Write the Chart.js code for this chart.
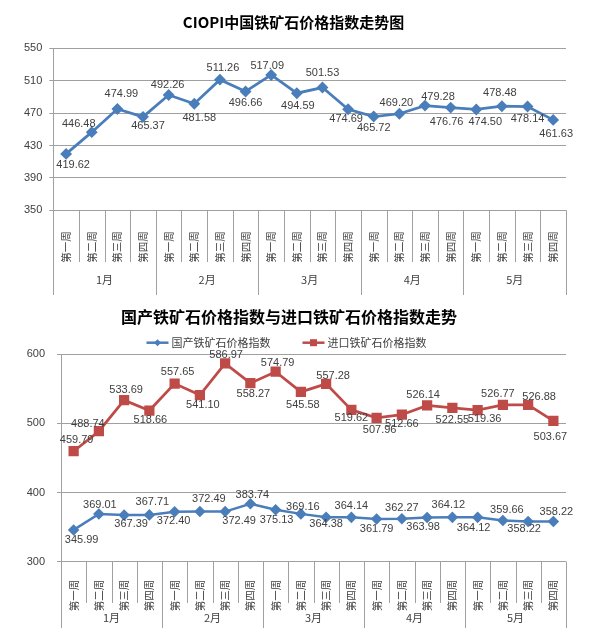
<!DOCTYPE html>
<html lang="zh-CN">
<head>
<meta charset="UTF-8">
<title>CIOPI中国铁矿石价格指数走势图</title>
<script src="https://cdn.jsdelivr.net/npm/chart.js@4"></script>
<style>
  body { margin: 0; background: #fff; }
  .box { position: absolute; left: 0; width: 600px; }
  #box1 { top: 0; height: 305px; }
  #box2 { top: 305px; height: 336px; }
</style>
</head>
<body>
<div class="box" id="box1"><canvas id="ciopiChart"></canvas></div>
<div class="box" id="box2"><canvas id="compareChart"></canvas></div>
<script>
// categories: 5 months x 4 weeks
const weeks = ['第一周', '第二周', '第三周', '第四周'];
const months = ['1月', '2月', '3月', '4月', '5月'];

// CIOPI index (top chart)
const ciopi = [419.62, 446.48, 474.99, 465.37, 492.26, 481.58, 511.26, 496.66, 517.09, 494.59,
               501.53, 474.69, 465.72, 469.20, 479.28, 476.76, 474.50, 478.48, 478.14, 461.63];

// domestic vs imported (bottom chart)
const domestic = [345.99, 369.01, 367.39, 367.71, 372.40, 372.49, 372.49, 383.74, 375.13, 369.16,
                  364.38, 364.14, 361.79, 362.27, 363.98, 364.12, 364.12, 359.66, 358.22, 358.22];
const imported = [459.79, 488.74, 533.69, 518.66, 557.65, 541.10, 586.97, 558.27, 574.79, 545.58,
                  557.28, 519.62, 507.96, 512.66, 526.14, 522.55, 519.36, 526.77, 526.88, 503.67];

const seriesNames = ['国产铁矿石价格指数', '进口铁矿石价格指数'];

// where each value label sits relative to its point [dx, dy]
const ciopiLabelPos = [[7,11],[-13,-8],[4,-15],[5,9],[-1,-10],[5,14],[3,-12],[0,11],[-4,-9],[1,13],
                       [0,-15],[-2,10],[0,11],[-3,-11],[13,-9],[-4,14],[9,13],[-2,-13],[0,12],[3,14]];
const domesticLabelPos = [[8,10],[1,-9],[7,9],[3,-13],[-1,9],[9,-13],[14,9],[2,-9],[1,10],[2,-7],
                          [0,7],[0,-11],[0,10],[0,-11],[-4,10],[-4,-12],[-4,11],[4,-10],[-4,8],[3,-9]];
const importedLabelPos = [[3,-11],[-11,-7],[2,-10],[1,9],[3,-12],[3,10],[1,-8],[3,11],[2,-9],[2,13],
                          [7,-8],[0,8],[3,12],[0,9],[-4,-10],[0,12],[7,9],[-5,-11],[11,-8],[-3,16]];

const categories = months.flatMap(() => weeks);

const BLUE = '#4a7ebb';
const RED = '#be4b48';
const GRID = '#a0a0a0';
const TEXT = '#404040';
const SANS = "'Liberation Sans', Arial, 'Noto Sans CJK SC', sans-serif";
const CJK = "'Noto Sans CJK SC', sans-serif";

Chart.defaults.font.family = SANS;
Chart.defaults.color = TEXT;
Chart.defaults.animation = false;

// week separators + month row under the x axis
const groupAxis = {
  id: 'groupAxis',
  afterDraw(chart, args, opts) {
    const x = chart.scales.x;
    const bottom = chart.chartArea.bottom;
    const ctx = chart.ctx;
    const n = chart.data.labels.length;
    ctx.save();
    ctx.strokeStyle = GRID;
    ctx.lineWidth = 1;
    ctx.beginPath();
    for (let i = 0; i <= n; i++) {
      const px = Math.round(x.getPixelForValue(i - 0.5)) + 0.5;
      ctx.moveTo(px, bottom);
      ctx.lineTo(px, i % weeks.length === 0 ? opts.monthBottom : opts.weekBottom);
    }
    ctx.stroke();
    ctx.fillStyle = TEXT;
    ctx.font = '11px ' + CJK;
    ctx.textAlign = 'center';
    ctx.textBaseline = 'middle';
    months.forEach((m, k) => {
      ctx.fillText(m, x.getPixelForValue(k * weeks.length + 1.5), opts.monthY);
    });
    ctx.restore();
  }
};

// value labels next to every point
const pointLabels = {
  id: 'pointLabels',
  afterDatasetsDraw(chart, args, opts) {
    const ctx = chart.ctx;
    ctx.save();
    ctx.font = '11px ' + SANS;
    ctx.fillStyle = TEXT;
    ctx.textAlign = 'center';
    ctx.textBaseline = 'middle';
    chart.data.datasets.forEach((ds, d) => {
      const meta = chart.getDatasetMeta(d);
      const pos = opts.offsets[d];
      meta.data.forEach((pt, i) => {
        ctx.fillText(ds.data[i].toFixed(2), pt.x + pos[i][0], pt.y + pos[i][1]);
      });
    });
    ctx.restore();
  }
};

// legend drawn as line + marker like the office chart
const lineLegend = {
  id: 'lineLegend',
  afterDraw(chart, args, opts) {
    const ctx = chart.ctx;
    ctx.save();
    ctx.font = '11px ' + CJK;
    const items = chart.data.datasets.map(ds => ({ ds, w: ctx.measureText(ds.label).width }));
    const total = items.reduce((s, it) => s + opts.lineLen + opts.textGap + it.w, 0) + opts.itemGap * (items.length - 1);
    let x = opts.centerX - total / 2;
    const y = opts.y;
    items.forEach(({ ds, w }) => {
      ctx.strokeStyle = ds.borderColor;
      ctx.lineWidth = 2.5;
      ctx.beginPath();
      ctx.moveTo(x, y);
      ctx.lineTo(x + opts.lineLen, y);
      ctx.stroke();
      const cx = x + opts.lineLen / 2;
      ctx.fillStyle = ds.borderColor;
      ctx.beginPath();
      if (ds.pointStyle === 'rect') {
        ctx.rect(cx - 3.5, y - 3.5, 7, 7);
      } else {
        ctx.moveTo(cx, y - 3.5); ctx.lineTo(cx + 3.5, y); ctx.lineTo(cx, y + 3.5); ctx.lineTo(cx - 3.5, y);
        ctx.closePath();
      }
      ctx.fill();
      ctx.fillStyle = TEXT;
      ctx.textAlign = 'left';
      ctx.textBaseline = 'middle';
      ctx.fillText(ds.label, x + opts.lineLen + opts.textGap, y);
      x += opts.lineLen + opts.textGap + w + opts.itemGap;
    });
    ctx.restore();
  }
};

function xAxis(height, pad) {
  return {
    type: 'category',
    offset: true,
    grid: { display: false },
    border: { display: false },
    ticks: {
      autoSkip: false, maxRotation: 90, minRotation: 90, padding: pad,
      color: TEXT, font: { family: CJK, size: 10.5 }
    },
    afterFit(scale) { scale.height = height; }
  };
}

function yAxis(min, max, step, width, pad) {
  return {
    min: min, max: max,
    ticks: { stepSize: step, padding: pad, color: TEXT, font: { size: 11 } },
    grid: { color: GRID, tickLength: 4 },
    border: { color: GRID },
    afterFit(scale) { scale.width = width; }
  };
}

new Chart(document.getElementById('ciopiChart'), {
  type: 'line',
  data: {
    labels: categories,
    datasets: [{
      label: 'CIOPI',
      data: ciopi,
      borderColor: BLUE,
      backgroundColor: BLUE,
      borderWidth: 2.75,
      tension: 0,
      pointStyle: 'rectRot',
      pointRadius: 4,
      pointBackgroundColor: BLUE,
      pointBorderColor: BLUE
    }]
  },
  options: {
    responsive: true,
    maintainAspectRatio: false,
    layout: { padding: { left: 21, right: 34, top: 0, bottom: 0 } },
    scales: {
      x: xAxis(94.7, 13),
      y: yAxis(350, 550, 40, 32.3, 7)
    },
    plugins: {
      legend: { display: false },
      tooltip: { enabled: false },
      title: {
        display: true,
        text: 'CIOPI中国铁矿石价格指数走势图',
        color: '#000',
        font: { family: CJK, size: 15, weight: 'bold', lineHeight: 1.2 },
        padding: { top: 13, bottom: 17.3 }
      },
      groupAxis: { weekBottom: 262, monthBottom: 295, monthY: 280 },
      pointLabels: { offsets: [ciopiLabelPos] }
    }
  },
  plugins: [groupAxis, pointLabels]
});

new Chart(document.getElementById('compareChart'), {
  type: 'line',
  data: {
    labels: categories,
    datasets: [{
      label: seriesNames[0],
      data: domestic,
      borderColor: BLUE,
      backgroundColor: BLUE,
      borderWidth: 2.5,
      tension: 0,
      pointStyle: 'rectRot',
      pointRadius: 4,
      pointBackgroundColor: BLUE,
      pointBorderColor: BLUE
    }, {
      label: seriesNames[1],
      data: imported,
      borderColor: RED,
      backgroundColor: RED,
      borderWidth: 2.75,
      tension: 0,
      pointStyle: 'rect',
      pointRadius: 5.3,
      pointBackgroundColor: RED,
      pointBorderColor: RED
    }]
  },
  options: {
    responsive: true,
    maintainAspectRatio: false,
    layout: { padding: { left: 12, right: 34, top: 0, bottom: 0 } },
    scales: {
      x: xAxis(79.3, 10),
      y: yAxis(300, 600, 100, 49, 12)
    },
    plugins: {
      legend: { display: false },
      tooltip: { enabled: false },
      title: {
        display: true,
        text: '国产铁矿石价格指数与进口铁矿石价格指数走势',
        color: '#000',
        font: { family: CJK, size: 16, weight: 'bold', lineHeight: 1.2 },
        padding: { top: 2.4, bottom: 27.7 }
      },
      groupAxis: { weekBottom: 298, monthBottom: 323, monthY: 313 },
      pointLabels: { offsets: [domesticLabelPos, importedLabelPos] },
      lineLegend: { centerX: 286.5, y: 37.7, lineLen: 22, textGap: 3, itemGap: 32 }
    }
  },
  plugins: [groupAxis, pointLabels, lineLegend]
});
</script>
</body>
</html>
